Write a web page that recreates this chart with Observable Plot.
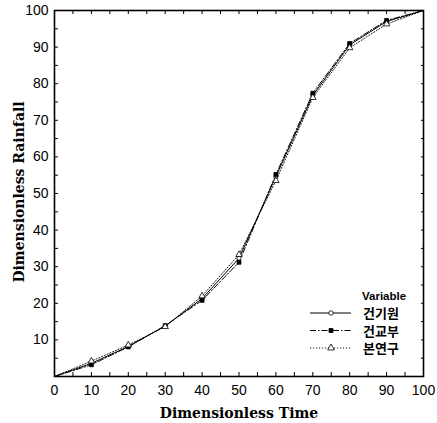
<!DOCTYPE html>
<html>
<head>
<meta charset="utf-8">
<script src="https://cdn.jsdelivr.net/npm/d3@7"></script>
<script src="https://cdn.jsdelivr.net/npm/@observablehq/plot@0.6"></script>
<style>
  html, body { margin: 0; padding: 0; background: #fff; }
  #chart { width: 437px; height: 423px; }
</style>
</head>
<body>
<div id="chart"></div>
<script>
const times = [0, 10, 20, 30, 40, 50, 60, 70, 80, 90, 100];
const seriesNames = ["건기원", "건교부", "본연구"];
const kicaValues  = [0, 3.6, 8.2, 13.8, 21.3, 32.3, 54.6, 76.8, 90.6, 97.0, 100];
const moctValues  = [0, 3.2, 8.1, 13.9, 20.8, 31.2, 55.2, 77.4, 91.0, 97.3, 100];
const studyValues = [0, 4.2, 8.6, 13.6, 22.0, 33.3, 53.5, 76.2, 89.8, 96.3, 100];
const xTickLabels = [0, 10, 20, 30, 40, 50, 60, 70, 80, 90, 100];
const yTickLabels = [10, 20, 30, 40, 50, 60, 70, 80, 90, 100];
const minorTicks = d3.range(0, 101, 5);

const valueLists = [kicaValues, moctValues, studyValues];
const rows = seriesNames.flatMap((s, i) => times.map((t, j) => ({series: s, time: t, value: valueLists[i][j]})));
const styles = {
  "건기원": {dash: null, symbol: "circle", fill: "white", r: 2.1, width: 1},
  "건교부": {dash: "6,2,1.5,2", symbol: "square", fill: "black", r: 2.2, width: 1},
  "본연구": {dash: "1.2,1.8", symbol: "triangle", fill: "white", r: 2.4, width: 0.9}
};

const lineMarks = seriesNames.map(s => Plot.line(rows.filter(d => d.series === s), {
  x: "time", y: "value", stroke: "black", strokeWidth: styles[s].width, strokeDasharray: styles[s].dash
}));
const dotMarks = seriesNames.map(s => Plot.dot(rows.filter(d => d.series === s && d.time > 0 && d.time < 100), {
  x: "time", y: "value", symbol: () => styles[s].symbol, r: styles[s].r, fill: styles[s].fill, stroke: "black", strokeWidth: 0.8
}));

const plot = Plot.plot({
  width: 437, height: 423,
  marginLeft: 54, marginRight: 14, marginTop: 10, marginBottom: 47,
  style: {fontFamily: "Liberation Sans, Arial, sans-serif", fontSize: "14px", color: "black", background: "white"},
  x: {domain: [0, 100]},
  y: {domain: [0, 100]},
  symbol: {domain: ["circle", "square", "triangle"], range: ["circle", "square", "triangle"]},
  marks: [
    Plot.axisX({ticks: minorTicks, tickSize: -4, text: null, label: null, strokeWidth: 1}),
    Plot.axisX({ticks: xTickLabels, tickSize: 0, tickPadding: 9, label: null, fontSize: 14}),
    Plot.axisX({anchor: "top", ticks: minorTicks, tickSize: -3, text: null, label: null}),
    Plot.axisY({ticks: minorTicks, tickSize: -4, text: null, label: null}),
    Plot.axisY({ticks: yTickLabels, tickSize: 0, tickPadding: 6, label: null, fontSize: 14}),
    Plot.axisY({anchor: "right", ticks: minorTicks, tickSize: -3, text: null, label: null}),
    ...lineMarks,
    ...dotMarks,
    Plot.frame({stroke: "black", strokeWidth: 1.6})
  ]
});

// Axis titles
const svg = d3.select(plot);
svg.append("text")
  .attr("x", 239).attr("y", 418)
  .attr("text-anchor", "middle")
  .attr("font-family", "DejaVu Serif, serif")
  .attr("font-weight", "bold").attr("font-size", 14)
  .text("Dimensionless Time");
svg.append("text")
  .attr("transform", "translate(24,192) rotate(-90)")
  .attr("text-anchor", "middle")
  .attr("font-family", "DejaVu Serif, serif")
  .attr("font-weight", "bold").attr("font-size", 14)
  .text("Dimensionless Rainfall");

// Legend
const lg = svg.append("g").attr("text-anchor", "start");
lg.append("text").attr("x", 362).attr("y", 300)
  .attr("font-family", "Liberation Sans, Arial, sans-serif").attr("font-weight", "bold")
  .attr("font-size", 11.5).text("Variable");
const symPaths = {circle: d3.symbol(d3.symbolCircle, 16)(), square: d3.symbol(d3.symbolSquare, 16)(), triangle: d3.symbol(d3.symbolTriangle, 20)()};
seriesNames.forEach((s, i) => {
  const y = 313 + i * 17.5;
  const st = styles[s];
  lg.append("line").attr("x1", 310).attr("x2", 351).attr("y1", y).attr("y2", y)
    .attr("stroke", "black").attr("stroke-width", st.width).attr("stroke-dasharray", st.dash);
  lg.append("path").attr("d", symPaths[st.symbol]).attr("transform", `translate(331,${y})`)
    .attr("fill", st.fill).attr("stroke", "black").attr("stroke-width", 0.8);
  lg.append("text").attr("x", 363).attr("y", y + 5)
    .attr("font-family", "Noto Sans CJK KR, sans-serif").attr("font-weight", "bold")
    .attr("font-size", 13).text(s);
});

document.getElementById("chart").appendChild(plot);
</script>
</body>
</html>
